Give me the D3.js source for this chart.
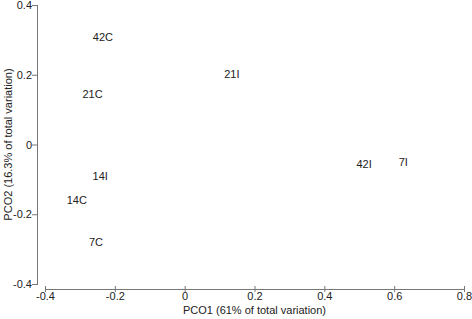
<!DOCTYPE html>
<html>
<head>
<meta charset="utf-8">
<script src="https://cdn.jsdelivr.net/npm/d3@7"></script>
<style>
  body { margin: 0; background: #fff; }
  text { font-family: "Liberation Sans", Arial, sans-serif; fill: #222; }
</style>
</head>
<body>
<div id="chart"></div>
<script>
// sample labels with PCO1 / PCO2 scores
const labels = ["42C", "21C", "21I", "14I", "14C", "7C", "42I", "7I"];
const pco1 = [-0.234, -0.264, 0.135, -0.242, -0.309, -0.254, 0.514, 0.626];
const pco2 = [0.307, 0.143, 0.201, -0.092, -0.160, -0.281, -0.057, -0.052];
const xTicks = [-0.4, -0.2, 0, 0.2, 0.4, 0.6, 0.8];
const yTicks = [-0.4, -0.2, 0, 0.2, 0.4];
const xTitle = "PCO1 (61% of total variation)";
const yTitle = "PCO2 (16.3% of total variation)";

const width = 472, height = 319;
const data = labels.map((d, i) => ({ label: d, x: pco1[i], y: pco2[i] }));

const x = d3.scaleLinear().domain([-0.4, 0.8]).range([45, 464]);
const y = d3.scaleLinear().domain([-0.4, 0.4]).range([284, 5]);

const svg = d3.select("#chart").append("svg")
    .attr("width", width)
    .attr("height", height);

// plain hyphen for negatives, like the original
const fmt = d => String(+d.toFixed(1));

// x axis, sits a little below the plotting area
const gx = svg.append("g")
    .attr("transform", "translate(0,289)")
    .call(d3.axisBottom(x).tickValues(xTicks).tickFormat(fmt).tickSizeInner(3).tickSizeOuter(0).tickPadding(0));

// y axis, offset left of the plotting area
const gy = svg.append("g")
    .attr("transform", "translate(37,0)")
    .call(d3.axisLeft(y).tickValues(yTicks).tickFormat(fmt).tickSizeInner(4).tickSizeOuter(0).tickPadding(1));

[gx, gy].forEach(g => {
    g.select(".domain").attr("stroke", "#777");
    g.selectAll(".tick line").attr("stroke", "#777");
    g.selectAll(".tick text").style("font-size", "11px").attr("fill", "#222");
});
// ticks cross the axis line slightly
gx.selectAll(".tick line").attr("y1", -3).attr("y2", 3);
gy.selectAll(".tick line").attr("x1", -5).attr("x2", 1);

svg.append("text")
    .attr("x", (x.range()[0] + x.range()[1]) / 2)
    .attr("y", 314)
    .attr("text-anchor", "middle")
    .style("font-size", "11px")
    .text(xTitle);

svg.append("text")
    .attr("transform", `translate(12,${(y.range()[0] + y.range()[1]) / 2}) rotate(-90)`)
    .attr("text-anchor", "middle")
    .style("font-size", "11px")
    .text(yTitle);

// point labels centred on their coordinates
svg.append("g").selectAll("text")
    .data(data)
    .enter()
    .append("text")
    .attr("x", d => x(d.x))
    .attr("y", d => y(d.y))
    .attr("dy", "0.35em")
    .attr("text-anchor", "middle")
    .style("font-size", "11px")
    .text(d => d.label);
</script>
</body>
</html>
